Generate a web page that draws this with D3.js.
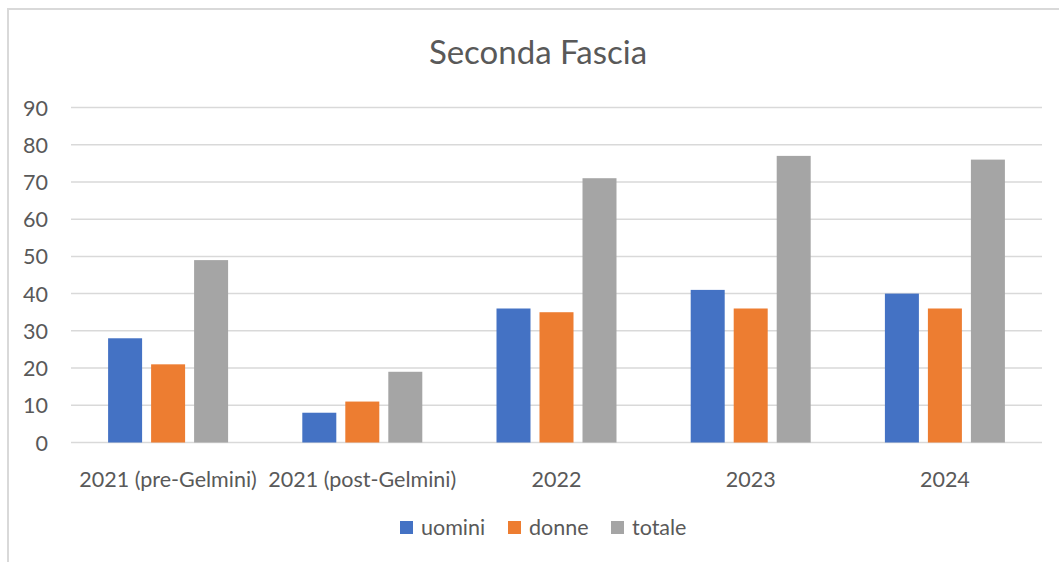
<!DOCTYPE html>
<html><head><meta charset="utf-8">
<script src="https://cdn.jsdelivr.net/npm/d3@7"></script>
<style>body{margin:0;background:#fff}svg{display:block}text{font-family:Lato,"Open Sans",sans-serif;fill:#595959}</style>
</head><body><svg id="c" width="1059" height="562"></svg>
<script>
const categories = ["2021 (pre-Gelmini)", "2021 (post-Gelmini)", "2022", "2023", "2024"];
const seriesNames = ["uomini", "donne", "totale"];
const uomini = [28, 8, 36, 41, 40];
const donne = [21, 11, 35, 36, 36];
const totale = [49, 19, 71, 77, 76];
const colors = ["#4472C4", "#ED7D31", "#A5A5A5"];
const yTicks = [0, 10, 20, 30, 40, 50, 60, 70, 80, 90];
const title = "Seconda Fascia";

(function () {
const series = [uomini, donne, totale];
const svg = d3.select("#c");
svg.append("rect").attr("x", 8).attr("y", 9).attr("width", 1100).attr("height", 600)
  .attr("fill", "#fff").attr("stroke", "#d9d9d9").attr("stroke-width", 2);

const pl = 71, pr = 1042, pt = 107.5, pb = 442.5;
const x = d3.scaleBand().domain(categories).range([pl, pr]);
const y = d3.scaleLinear().domain([0, 90]).range([pb, pt]);

svg.append("g").selectAll("line").data(yTicks).join("line")
  .attr("x1", pl).attr("x2", pr)
  .attr("y1", d => y(d)).attr("y2", d => y(d))
  .attr("stroke", "#d9d9d9").attr("stroke-width", 1.5);

svg.append("g").selectAll("text").data(yTicks).join("text")
  .attr("x", 48).attr("y", d => y(d) + 8).attr("text-anchor", "end")
  .attr("font-size", 21.5).text(d => d);

const bw = 34, gap = 9, gw = 3 * bw + 2 * gap;
const inner = d3.scaleBand().domain(seriesNames).range([0, gw]).paddingInner(gap / (bw + gap));
series.forEach((vals, si) => {
  svg.append("g").selectAll("rect").data(categories).join("rect")
    .attr("x", c => x(c) + x.bandwidth() / 2 - gw / 2 + inner(seriesNames[si]))
    .attr("width", inner.bandwidth())
    .attr("y", (c, i) => y(vals[i]))
    .attr("height", (c, i) => pb - y(vals[i]))
    .attr("fill", colors[si]);
});

svg.append("g").selectAll("text").data(categories).join("text")
  .attr("x", c => x(c) + x.bandwidth() / 2).attr("y", 487)
  .attr("text-anchor", "middle").attr("font-size", 21.5).text(c => c);

svg.append("text").attr("x", 538).attr("y", 64).attr("text-anchor", "middle")
  .attr("font-size", 33).text(title);

const legX = [400, 508, 611];
seriesNames.forEach((n, i) => {
  svg.append("rect").attr("x", legX[i]).attr("y", 521).attr("width", 13).attr("height", 13).attr("fill", colors[i]);
  svg.append("text").attr("x", legX[i] + 21).attr("y", 535).attr("font-size", 21.5).text(n);
});
})();
</script></body></html>
